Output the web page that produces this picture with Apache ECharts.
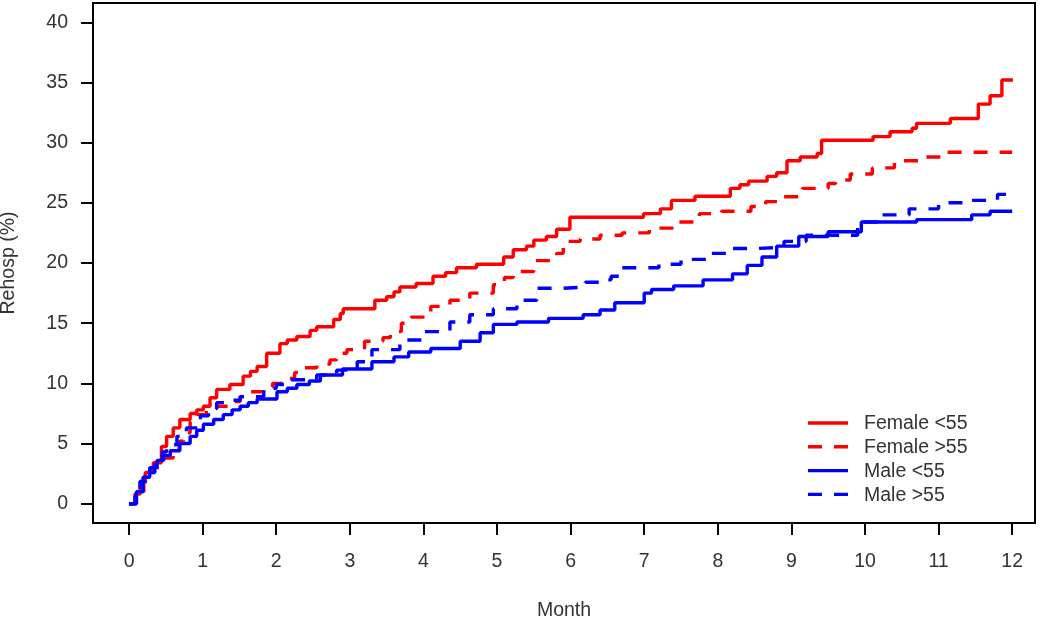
<!DOCTYPE html>
<html><head><meta charset="utf-8">
<script src="https://cdn.jsdelivr.net/npm/echarts@6/dist/echarts.min.js"></script>
<style>html,body{margin:0;padding:0;background:#fff}#c{width:1050px;height:621px}</style>
</head><body><div id="c"></div>
<script>
const seriesNames = ['Female <55', 'Female >55', 'Male <55', 'Male >55'];
const xTicks = [0,1,2,3,4,5,6,7,8,9,10,11,12];
const yTicks = [0,5,10,15,20,25,30,35,40];
const femaleUnder55 = [[0,0],[0.08,0.8],[0.15,1.85],[0.22,2.6],[0.33,3.4],[0.44,4.75],[0.51,5.6],[0.6,6.3],[0.69,7.0],[0.83,7.5],[0.92,7.8],[1.01,8.1],[1.1,8.8],[1.19,9.5],[1.37,9.9],[1.55,10.6],[1.65,11.0],[1.74,11.4],[1.87,12.5],[2.05,13.3],[2.15,13.6],[2.28,13.9],[2.46,14.4],[2.55,14.7],[2.78,15.3],[2.87,15.8],[2.91,16.2],[3.34,16.9],[3.5,17.2],[3.6,17.6],[3.68,18.0],[3.9,18.3],[4.13,18.9],[4.3,19.2],[4.45,19.6],[4.72,19.9],[5.09,20.5],[5.22,21.1],[5.4,21.4],[5.5,21.9],[5.67,22.2],[5.81,22.8],[5.99,23.8],[6.99,24.1],[7.22,24.5],[7.37,25.2],[7.69,25.55],[8.17,26.2],[8.3,26.5],[8.42,26.8],[8.67,27.2],[8.8,27.5],[8.94,28.5],[9.12,28.8],[9.35,29.1],[9.41,30.2],[10.11,30.5],[10.34,30.9],[10.64,31.2],[10.7,31.6],[11.16,32.0],[11.54,33.2],[11.7,33.9],[11.86,35.2],[12.01,35.2]];
const femaleOver55 = [[0,0],[0.1,0.9],[0.2,2.0],[0.3,3.0],[0.45,3.8],[0.6,4.2],[0.68,5.2],[0.74,5.9],[0.83,6.8],[0.92,7.4],[1.05,7.8],[1.19,8.1],[1.35,8.5],[1.51,8.9],[1.65,9.3],[1.83,9.7],[1.95,10.0],[2.1,10.4],[2.25,10.9],[2.37,11.3],[2.55,11.6],[2.73,11.95],[2.82,12.5],[2.96,12.8],[3.2,13.5],[3.45,13.8],[3.55,14.3],[3.7,15.0],[3.83,15.5],[4.1,16.4],[4.36,16.9],[4.63,17.5],[4.95,18.2],[5.1,18.8],[5.22,19.3],[5.5,20.2],[5.81,20.8],[5.9,21.8],[6.13,22.0],[6.4,22.3],[6.7,22.5],[7.07,22.9],[7.4,23.4],[7.75,24.1],[8.05,24.3],[8.45,24.7],[8.65,25.1],[8.9,25.5],[9.15,26.2],[9.5,26.6],[9.6,26.9],[9.8,27.4],[10.1,27.9],[10.4,28.5],[10.75,28.8],[11.1,29.2],[12.0,29.2]];
const maleUnder55 = [[0,0],[0.1,1.0],[0.19,2.2],[0.28,3.0],[0.38,3.6],[0.47,4.0],[0.56,4.4],[0.69,5.0],[0.83,5.6],[0.92,6.1],[1.01,6.6],[1.15,7.0],[1.28,7.4],[1.4,7.8],[1.51,8.1],[1.62,8.4],[1.74,8.7],[2.01,9.3],[2.15,9.6],[2.28,9.9],[2.45,10.2],[2.6,10.7],[2.9,11.2],[3.3,11.8],[3.6,12.2],[3.8,12.6],[4.1,12.9],[4.5,13.5],[4.77,14.2],[4.95,14.9],[5.27,15.1],[5.7,15.4],[6.17,15.7],[6.4,16.1],[6.6,16.7],[7.0,17.5],[7.1,17.8],[7.4,18.1],[7.8,18.6],[8.2,19.1],[8.4,19.8],[8.6,20.5],[8.8,21.4],[9.1,22.2],[9.5,22.6],[9.95,23.4],[10.7,23.6],[11.45,24.0],[11.7,24.3],[12.0,24.3]];
const maleOver55 = [[0,0],[0.08,0.8],[0.15,1.85],[0.25,2.6],[0.35,3.4],[0.45,4.3],[0.51,4.9],[0.65,5.6],[0.78,6.3],[0.97,7.3],[1.08,7.9],[1.19,8.4],[1.35,8.6],[1.51,8.9],[1.83,9.6],[2.0,9.9],[2.19,10.3],[2.55,10.7],[2.82,11.1],[3.1,11.8],[3.3,12.8],[3.68,13.6],[4.0,14.3],[4.36,15.1],[4.63,15.7],[4.95,16.2],[5.27,16.9],[5.54,17.9],[5.9,18.0],[6.2,18.4],[6.45,18.6],[6.55,18.9],[6.7,19.6],[7.2,19.9],[7.5,20.3],[7.85,20.8],[8.2,21.2],[8.5,21.3],[8.9,21.8],[9.2,22.3],[9.9,23.4],[10.2,24.0],[10.6,24.5],[11.0,25.0],[11.4,25.2],[11.8,25.7],[11.92,25.7]];

const FONT = '"Liberation Sans", Arial, sans-serif';
const FS = 19.5;
const TXT = '#333';
const colors = ['#ff0000', '#ff0000', '#0000ff', '#0000ff'];
const dashed = [false, true, false, true];
const DASH = [14, 12];
function mk(i, data) {
  return {
    name: seriesNames[i], type: 'line', data, step: 'end', symbol: 'none', animation: false,
    lineStyle: { color: colors[i], width: 3.4, type: dashed[i] ? DASH : 'solid', cap: 'butt' },
    itemStyle: { color: colors[i] }
  };
}
// legend drawn as graphic keys
const legendEls = [];
seriesNames.forEach((n, i) => {
  const y = 423 + i * 23.8;
  legendEls.push({ type: 'line', shape: { x1: 808, y1: y, x2: 848, y2: y },
    style: { stroke: colors[i], lineWidth: 3.4, lineDash: dashed[i] ? DASH : null } });
  legendEls.push({ type: 'text', x: 864, y: y + 1, style: { text: n, font: FS + 'px ' + FONT, fill: TXT, verticalAlign: 'middle' } });
});
const chart = echarts.init(document.getElementById('c'));
chart.setOption({
  animation: false,
  backgroundColor: '#fff',
  grid: { left: 93, right: 15, top: 3, bottom: 98, show: true, borderColor: '#000', borderWidth: 2, containLabel: false, outerBoundsMode: 'none' },
  xAxis: {
    type: 'value', min: -0.49, max: 12.31,
    name: 'Month', nameLocation: 'middle', nameGap: 78,
    nameTextStyle: { fontFamily: FONT, fontSize: FS, color: TXT },
    axisLine: { show: false, onZero: false },
    splitLine: { show: false },
    axisTick: { show: true, inside: false, length: 12, lineStyle: { color: '#000', width: 2 }, customValues: xTicks },
    axisLabel: { fontFamily: FONT, fontSize: FS, color: TXT, margin: 29, customValues: xTicks }
  },
  yAxis: {
    type: 'value', min: -1.6, max: 41.6,
    name: 'Rehosp (%)', nameLocation: 'middle', nameGap: 74, nameRotate: 90,
    nameTextStyle: { fontFamily: FONT, fontSize: FS, color: TXT },
    axisLine: { show: false, onZero: false },
    splitLine: { show: false },
    axisTick: { show: true, inside: false, length: 12, lineStyle: { color: '#000', width: 2 }, customValues: yTicks },
    axisLabel: { fontFamily: FONT, fontSize: FS, color: TXT, margin: 25, customValues: yTicks }
  },
  graphic: legendEls,
  series: [
    mk(0, femaleUnder55),
    mk(1, femaleOver55),
    mk(2, maleUnder55),
    mk(3, maleOver55)
  ]
});
</script></body></html>
